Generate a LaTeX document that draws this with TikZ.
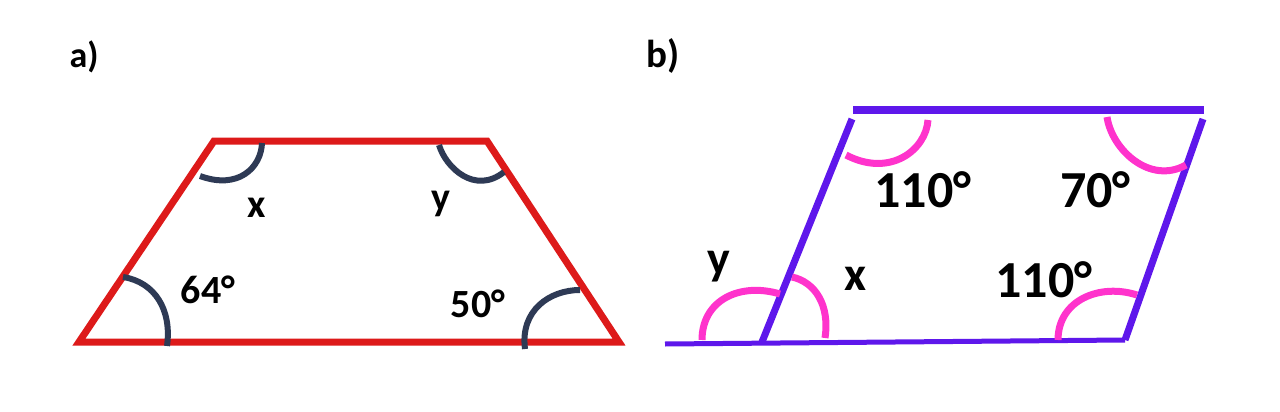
\documentclass[tikz,border=0pt]{standalone}
\usepackage{fontspec}
\setmainfont{Carlito}
\definecolor{trapred}{HTML}{DD1A1A}
\definecolor{arcnavy}{HTML}{2E3A55}
\definecolor{parapurple}{HTML}{5E17EB}
\definecolor{arcpink}{HTML}{FF33CC}
\tikzset{
  trapline/.style={draw=trapred, line width=7pt, line join=miter},
  navyarc/.style={draw=arcnavy, line width=6pt},
  purpline/.style={draw=parapurple, line width=#1},
  pinkarc/.style={draw=arcpink, line width=7pt},
  lbl/.style={anchor=base, inner sep=0pt, text=black, font=\bfseries\fontsize{#1}{#1}\selectfont},
}
\begin{document}
\begin{tikzpicture}[x=1pt,y=-1pt]
\useasboundingbox[fill=white] (0,0) rectangle (1280,412);
% ---------- part a ----------
\coordinate (aBL) at (79,342);
\coordinate (aTL) at (214,141);
\coordinate (aTR) at (487,141);
\coordinate (aBR) at (619,342);
\draw[trapline] (aBL) -- (aTL) -- (aTR) -- (aBR) -- cycle;
\draw[navyarc] (262,143) .. controls (261,168) and (238,190) .. (200,176);
\draw[navyarc] (439,145) .. controls (446,168) and (475,195) .. (504,172);
\draw[navyarc] (123,277) .. controls (155,282) and (172,310) .. (167,346);
\draw[navyarc] (580,290) .. controls (550,290) and (520,310) .. (525,349);
\node[lbl=36] (la) at (84,67) {a)};
\node[lbl=40] (ax) at (256.5,217) {x};
\node[lbl=40] (ay) at (441,210) {y};
\node[lbl=40] (a64) at (208,303) {64°};
\node[lbl=40] (a50) at (478,317) {50°};
% ---------- part b ----------
\coordinate (bT1) at (853,110);
\coordinate (bT2) at (1204,110);
\coordinate (bL1) at (852,119);
\coordinate (bL2) at (762,342);
\coordinate (bB1) at (665,344);
\coordinate (bBR) at (1125,340);
\coordinate (bR1) at (1203,119);
\draw[purpline=8pt] (bT1) -- (bT2);
\draw[purpline=7pt] (bL1) -- (bL2);
\draw[purpline=7pt] (bBR) -- (bR1);
\draw[purpline=5pt] (bB1) -- (bBR);
\draw[pinkarc] (928,120) .. controls (926,150) and (890,178) .. (846,155);
\draw[pinkarc] (1107,117) .. controls (1112,150) and (1150,185) .. (1186,165);
\draw[pinkarc] (1137,295) .. controls (1100,283) and (1058,300) .. (1058,340);
\draw[pinkarc] (780,294) .. controls (740,282) and (702,300) .. (702,340);
\draw[pinkarc] (792,277) .. controls (815,282) and (830,305) .. (825,338);
\node[lbl=39] (lb) at (663,67) {b)};
\node[lbl=52] (b110t) at (923,207) {110°};
\node[lbl=52] (b70) at (1095.5,207) {70°};
\node[lbl=52] (b110b) at (1044,297) {110°};
\node[lbl=48] (bx) at (856,290) {x};
\node[lbl=48] (by) at (719,274) {y};
\end{tikzpicture}
\end{document}
